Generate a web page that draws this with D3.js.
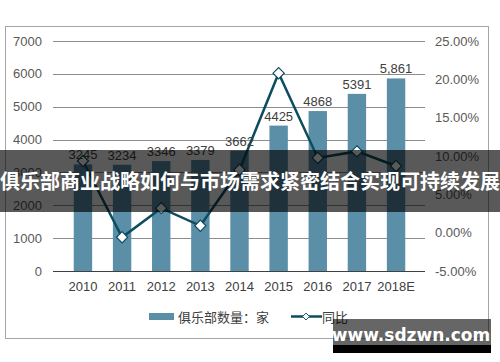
<!DOCTYPE html>
<html>
<head>
<meta charset="utf-8">
<script src="https://cdn.jsdelivr.net/npm/d3@7"></script>
<style>
  body { margin: 0; background: #fff; }
  svg { display: block; }
</style>
</head>
<body>
<div id="viz"></div>
<script>
const width = 500;
const height = 362;
const margin = {top: 41, right: 75, bottom: 91, left: 53};

// data
const years = ['2010', '2011', '2012', '2013', '2014', '2015', '2016', '2017', '2018E'];
const clubs = [3245, 3234, 3346, 3379, 3662, 4425, 4868, 5391, 5861];
const clubLabels = ['3245', '3234', '3346', '3379', '3662', '4425', '4868', '5391', '5,861'];
const growth = [9.35, -0.6, 3.2, 0.9, 8.2, 20.8, 9.75, 10.6, 8.7];
const leftTicks = [0, 1000, 2000, 3000, 4000, 5000, 6000, 7000];
const rightTicks = [-5, 0, 5, 10, 15, 20, 25];

const barColor = '#5b8fa8';
const lineColor = '#0d4d60';
const font = 'Arial, "Liberation Sans", sans-serif';
const cjk = '"Noto Sans CJK SC", sans-serif';

const svg = d3.select('#viz')
  .append('svg')
    .attr('width', width)
    .attr('height', height);

// outer frame
svg.append('rect')
  .attr('x', 5.5).attr('y', 26.5)
  .attr('width', 483).attr('height', 312)
  .attr('fill', '#fff')
  .attr('stroke', '#a6a6a6');

const x = d3.scaleBand()
  .domain(years)
  .range([margin.left, width - margin.right + 1])
  .padding(0.53);

const y = d3.scaleLinear()
  .domain([0, 7000])
  .range([height - margin.bottom, margin.top]);

const y2 = d3.scaleLinear()
  .domain([-5, 25])
  .range([height - margin.bottom, margin.top]);

// gridlines
svg.append('g')
  .selectAll('line').data(leftTicks.slice(1)).join('line')
    .attr('x1', margin.left).attr('x2', width - margin.right)
    .attr('y1', d => Math.round(y(d)) + 0.5).attr('y2', d => Math.round(y(d)) + 0.5)
    .attr('stroke', '#8c8c8c');

// left axis labels
svg.append('g')
  .selectAll('text').data(leftTicks).join('text')
    .attr('x', 42).attr('y', d => y(d) + 4.5)
    .attr('text-anchor', 'end')
    .attr('font-family', font).attr('font-size', 13)
    .attr('fill', '#595959')
    .text(d => d);

// right axis labels
svg.append('g')
  .selectAll('text').data(rightTicks).join('text')
    .attr('x', 435).attr('y', d => y2(d) + 4.5)
    .attr('font-family', font).attr('font-size', 13)
    .attr('fill', '#595959')
    .text(d => d.toFixed(2) + '%');

// bars
svg.append('g')
  .selectAll('rect').data(clubs).join('rect')
    .attr('x', (d, i) => x(years[i]))
    .attr('y', d => y(d))
    .attr('width', x.bandwidth())
    .attr('height', d => y(0) - y(d))
    .attr('fill', barColor);

// x axis line
svg.append('line')
  .attr('x1', margin.left).attr('x2', width - margin.right)
  .attr('y1', Math.round(y(0)) + 0.5).attr('y2', Math.round(y(0)) + 0.5)
  .attr('stroke', '#404040');

// x labels
svg.append('g')
  .selectAll('text').data(years).join('text')
    .attr('x', d => x(d) + x.bandwidth() / 2)
    .attr('y', 291)
    .attr('text-anchor', 'middle')
    .attr('font-family', font).attr('font-size', 13)
    .attr('fill', '#404040')
    .text(d => d);

// growth line
const line = d3.line()
  .x((d, i) => x(years[i]) + x.bandwidth() / 2)
  .y(d => y2(d));

svg.append('path')
  .attr('d', line(growth))
  .attr('fill', 'none')
  .attr('stroke', lineColor)
  .attr('stroke-width', 2.5);

const diamond = d3.symbol().type(d3.symbolDiamond2).size(80);
svg.append('g')
  .selectAll('path').data(growth).join('path')
    .attr('transform', (d, i) => `translate(${x(years[i]) + x.bandwidth() / 2},${y2(d)})`)
    .attr('d', diamond)
    .attr('fill', '#fff')
    .attr('stroke', lineColor)
    .attr('stroke-width', 1.2);

// value labels
svg.append('g')
  .selectAll('text').data(clubs).join('text')
    .attr('x', (d, i) => x(years[i]) + x.bandwidth() / 2)
    .attr('y', d => y(d) - 5)
    .attr('text-anchor', 'middle')
    .attr('font-family', font).attr('font-size', 13)
    .attr('fill', '#404040')
    .text((d, i) => clubLabels[i]);

// legend
const legend = svg.append('g');
legend.append('rect')
  .attr('x', 149).attr('y', 313)
  .attr('width', 25).attr('height', 7)
  .attr('fill', barColor);
legend.append('text')
  .attr('x', 178).attr('y', 321.5)
  .attr('font-family', cjk).attr('font-size', 13)
  .attr('fill', '#404040')
  .text('俱乐部数量：家');
legend.append('line')
  .attr('x1', 291).attr('x2', 322)
  .attr('y1', 316.5).attr('y2', 316.5)
  .attr('stroke', lineColor).attr('stroke-width', 2.5);
legend.append('path')
  .attr('transform', 'translate(306,316.5)')
  .attr('d', d3.symbol().type(d3.symbolDiamond2).size(30))
  .attr('fill', '#fff')
  .attr('stroke', lineColor);
legend.append('text')
  .attr('x', 322).attr('y', 321.5)
  .attr('font-family', cjk).attr('font-size', 13)
  .attr('fill', '#404040')
  .text('同比');

// title band overlay
svg.append('rect')
  .attr('x', 0).attr('y', 150)
  .attr('width', width).attr('height', 62)
  .attr('fill', 'rgba(0,0,0,0.65)');
svg.append('text')
  .attr('x', width / 2).attr('y', 189)
  .attr('text-anchor', 'middle')
  .attr('font-family', cjk).attr('font-size', 20).attr('font-weight', 'bold')
  .attr('fill', '#fff')
  .text('俱乐部商业战略如何与市场需求紧密结合实现可持续发展');

// watermark
svg.append('rect')
  .attr('x', 333).attr('y', 319)
  .attr('width', 158).attr('height', 26)
  .attr('fill', 'rgba(0,0,0,0.6)');
svg.append('rect')
  .attr('x', 333).attr('y', 345)
  .attr('width', 158).attr('height', 8)
  .attr('fill', '#000');
svg.append('text')
  .attr('x', 411).attr('y', 341)
  .attr('text-anchor', 'middle')
  .attr('font-family', '"DejaVu Sans", sans-serif').attr('font-size', 17).attr('font-weight', 'bold')
  .attr('fill', '#fff')
  .text('www.sdzwn.com');
</script>
</body>
</html>
